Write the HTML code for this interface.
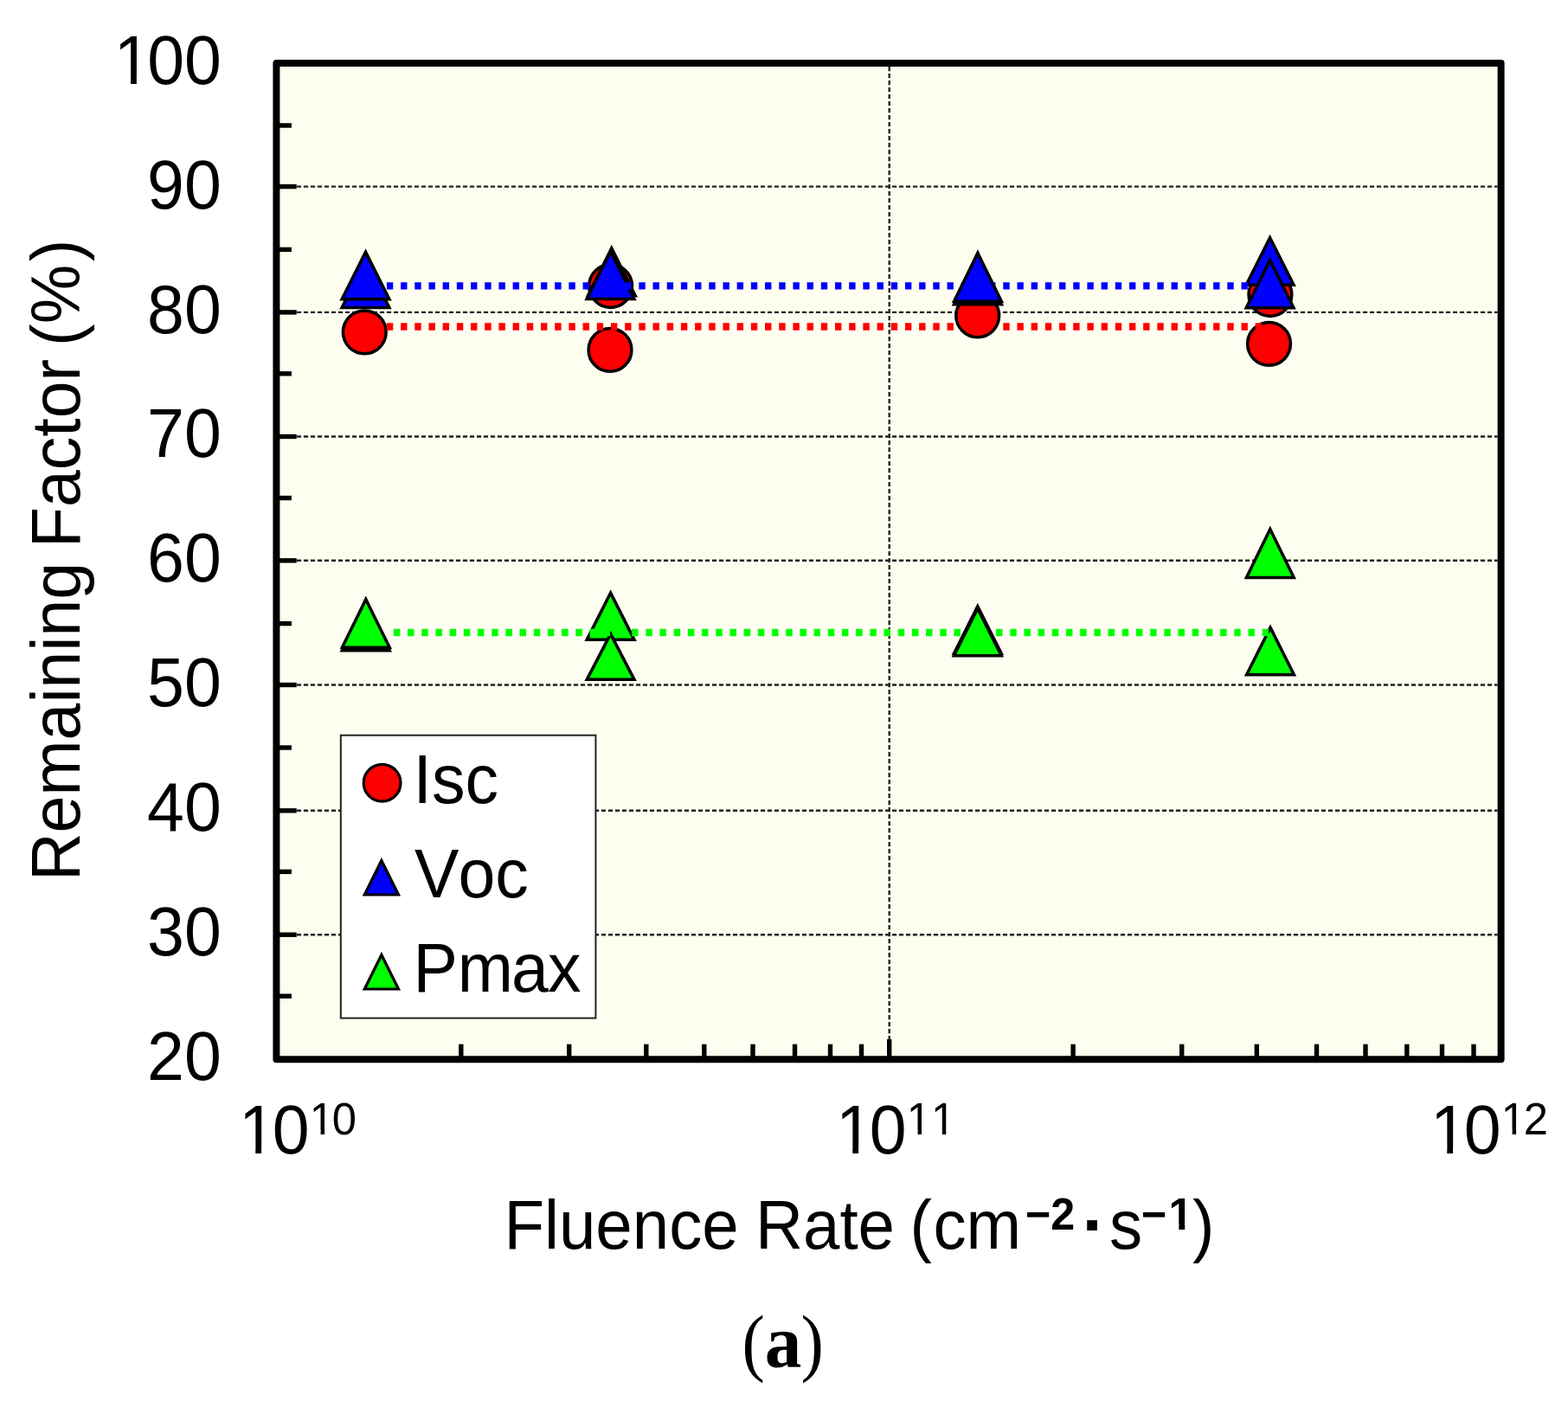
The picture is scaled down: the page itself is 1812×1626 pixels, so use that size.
<!DOCTYPE html>
<html lang="en"><head><meta charset="utf-8"><title>Remaining Factor vs Fluence Rate</title>
<style>
html,body{margin:0;padding:0;background:#fff;}
body{width:1812px;height:1626px;overflow:hidden;}
svg{display:block;}
text{font-family:"Liberation Sans",sans-serif;fill:#000;}
.cap{font-family:"Liberation Serif",serif;}
</style></head><body>
<svg width="1812" height="1626" viewBox="0 0 1812 1626">
<defs><filter id="soft" filterUnits="userSpaceOnUse" x="0" y="0" width="1812" height="1626"><feGaussianBlur stdDeviation="0.7"/></filter></defs>
<rect x="0" y="0" width="1812" height="1626" fill="#fff"/>
<g filter="url(#soft)">
<!-- plot area -->
<rect x="319.4" y="73.0" width="1415.20" height="1151.30" fill="#fefef0"/>
<!-- grid -->
<g stroke="#222" stroke-width="2.4" stroke-dasharray="5.2 2.8" fill="none"><line x1="342.9" y1="1080.20" x2="1730.6" y2="1080.20"/><line x1="342.9" y1="936.80" x2="1730.6" y2="936.80"/><line x1="342.9" y1="791.50" x2="1730.6" y2="791.50"/><line x1="342.9" y1="647.80" x2="1730.6" y2="647.80"/><line x1="342.9" y1="504.50" x2="1730.6" y2="504.50"/><line x1="342.9" y1="360.90" x2="1730.6" y2="360.90"/><line x1="342.9" y1="215.60" x2="1730.6" y2="215.60"/><line x1="1027.70" y1="77.0" x2="1027.70" y2="1201.3"/></g>
<!-- ticks and frame -->
<g stroke="#000" stroke-width="5.4" fill="none"><line x1="319.4" y1="1080.20" x2="342.7" y2="1080.20"/><line x1="319.4" y1="936.80" x2="342.7" y2="936.80"/><line x1="319.4" y1="791.50" x2="342.7" y2="791.50"/><line x1="319.4" y1="647.80" x2="342.7" y2="647.80"/><line x1="319.4" y1="504.50" x2="342.7" y2="504.50"/><line x1="319.4" y1="360.90" x2="342.7" y2="360.90"/><line x1="319.4" y1="215.60" x2="342.7" y2="215.60"/><line x1="319.4" y1="1151.20" x2="336.9" y2="1151.20"/><line x1="319.4" y1="1007.40" x2="336.9" y2="1007.40"/><line x1="319.4" y1="864.00" x2="336.9" y2="864.00"/><line x1="319.4" y1="720.60" x2="336.9" y2="720.60"/><line x1="319.4" y1="575.50" x2="336.9" y2="575.50"/><line x1="319.4" y1="431.80" x2="336.9" y2="431.80"/><line x1="319.4" y1="288.40" x2="336.9" y2="288.40"/><line x1="319.4" y1="145.00" x2="336.9" y2="145.00"/><line x1="532.80" y1="1224.3" x2="532.80" y2="1206.7"/><line x1="657.70" y1="1224.3" x2="657.70" y2="1206.7"/><line x1="746.80" y1="1224.3" x2="746.80" y2="1206.7"/><line x1="813.80" y1="1224.3" x2="813.80" y2="1206.7"/><line x1="870.00" y1="1224.3" x2="870.00" y2="1206.7"/><line x1="918.50" y1="1224.3" x2="918.50" y2="1206.7"/><line x1="959.50" y1="1224.3" x2="959.50" y2="1206.7"/><line x1="995.50" y1="1224.3" x2="995.50" y2="1206.7"/><line x1="1027.70" y1="1224.3" x2="1027.70" y2="1201.0"/><line x1="1240.10" y1="1224.3" x2="1240.10" y2="1206.7"/><line x1="1365.70" y1="1224.3" x2="1365.70" y2="1206.7"/><line x1="1452.30" y1="1224.3" x2="1452.30" y2="1206.7"/><line x1="1521.50" y1="1224.3" x2="1521.50" y2="1206.7"/><line x1="1578.00" y1="1224.3" x2="1578.00" y2="1206.7"/><line x1="1625.80" y1="1224.3" x2="1625.80" y2="1206.7"/><line x1="1666.50" y1="1224.3" x2="1666.50" y2="1206.7"/><line x1="1703.00" y1="1224.3" x2="1703.00" y2="1206.7"/></g>
<rect x="319.4" y="73.0" width="1415.20" height="1151.30" fill="none" stroke="#000" stroke-width="8" stroke-linejoin="round"/>
<!-- data markers (lower layer) -->
<g><circle cx="421.30" cy="383.80" r="24.9" fill="#ff0000" stroke="#000" stroke-width="3.5"/><circle cx="705.60" cy="330.50" r="24.9" fill="#ff0000" stroke="#000" stroke-width="3.5"/><circle cx="705.00" cy="404.40" r="24.9" fill="#ff0000" stroke="#000" stroke-width="3.5"/><circle cx="1467.90" cy="340.50" r="24.9" fill="#ff0000" stroke="#000" stroke-width="3.5"/><circle cx="1466.50" cy="397.30" r="24.9" fill="#ff0000" stroke="#000" stroke-width="3.5"/><polygon points="422.50,300.57 449.90,355.45 395.10,355.45" fill="#0000ff" stroke="#000" stroke-width="3.5" stroke-linejoin="miter" stroke-miterlimit="10"/><polygon points="422.50,291.15 449.90,345.75 395.10,345.75" fill="#0000ff" stroke="#000" stroke-width="3.5" stroke-linejoin="miter" stroke-miterlimit="10"/><polygon points="706.80,286.78 734.20,341.85 679.40,341.85" fill="#0000ff" stroke="#000" stroke-width="3.5" stroke-linejoin="miter" stroke-miterlimit="10"/><polygon points="705.50,290.48 732.90,345.55 678.10,345.55" fill="#0000ff" stroke="#000" stroke-width="3.5" stroke-linejoin="miter" stroke-miterlimit="10"/><polygon points="1467.60,274.74 1495.00,329.15 1440.20,329.15" fill="#0000ff" stroke="#000" stroke-width="3.5" stroke-linejoin="miter" stroke-miterlimit="10"/><polygon points="422.80,693.01 450.20,751.75 395.40,751.75" fill="#00ff00" stroke="#000" stroke-width="3.5" stroke-linejoin="miter" stroke-miterlimit="10"/><polygon points="422.80,692.80 450.20,748.25 395.40,748.25" fill="#00ff00" stroke="#000" stroke-width="3.5" stroke-linejoin="miter" stroke-miterlimit="10"/><polygon points="705.60,685.13 733.00,739.35 678.20,739.35" fill="#00ff00" stroke="#000" stroke-width="3.5" stroke-linejoin="miter" stroke-miterlimit="10"/><polygon points="705.60,732.64 733.00,785.35 678.20,785.35" fill="#00ff00" stroke="#000" stroke-width="3.5" stroke-linejoin="miter" stroke-miterlimit="10"/><polygon points="1467.80,611.53 1495.20,667.45 1440.40,667.45" fill="#00ff00" stroke="#000" stroke-width="3.5" stroke-linejoin="miter" stroke-miterlimit="10"/><polygon points="1468.00,725.15 1495.40,779.75 1440.60,779.75" fill="#00ff00" stroke="#000" stroke-width="3.5" stroke-linejoin="miter" stroke-miterlimit="10"/></g>
<!-- trend lines -->
<g stroke-width="8.4" stroke-dasharray="7.4 8.79" fill="none"><line x1="446.9" y1="330.4" x2="1466" y2="330.4" stroke="#0000ff"/><line x1="446.9" y1="377.5" x2="1466" y2="377.5" stroke="#ff0000"/><line x1="454.9" y1="731.0" x2="1466" y2="731.0" stroke="#00ff00"/></g>
<!-- data markers (upper layer) -->
<g><circle cx="1129.70" cy="364.80" r="24.9" fill="#ff0000" stroke="#000" stroke-width="3.5"/><polygon points="1129.90,292.73 1157.30,351.85 1102.50,351.85" fill="#0000ff" stroke="#000" stroke-width="3.5" stroke-linejoin="miter" stroke-miterlimit="10"/><polygon points="1129.90,292.52 1157.30,348.25 1102.50,348.25" fill="#0000ff" stroke="#000" stroke-width="3.5" stroke-linejoin="miter" stroke-miterlimit="10"/><polygon points="1467.60,300.77 1495.00,355.65 1440.20,355.65" fill="#0000ff" stroke="#000" stroke-width="3.5" stroke-linejoin="miter" stroke-miterlimit="10"/><polygon points="1129.80,700.75 1157.20,755.25 1102.40,755.25" fill="#00ff00" stroke="#000" stroke-width="3.5" stroke-linejoin="miter" stroke-miterlimit="10"/><polygon points="1129.80,703.15 1157.20,757.75 1102.40,757.75" fill="#00ff00" stroke="#000" stroke-width="3.5" stroke-linejoin="miter" stroke-miterlimit="10"/></g>
<!-- legend -->
<rect x="393.8" y="849.7" width="294.6" height="326.9" fill="#fff" stroke="#222" stroke-width="2"/>
<circle cx="441.60" cy="904.80" r="21.4" fill="#ff0000" stroke="#000" stroke-width="3.2"/>
<polygon points="440.90,994.42 460.50,1034.00 421.30,1034.00" fill="#0000ff" stroke="#000" stroke-width="3.2" stroke-linejoin="miter" stroke-miterlimit="10"/>
<polygon points="440.90,1103.42 460.50,1143.00 421.30,1143.00" fill="#00ff00" stroke="#000" stroke-width="3.2" stroke-linejoin="miter" stroke-miterlimit="10"/>
<text transform="translate(477.5,927.6) scale(0.975,1)" font-size="79">Isc</text>
<text transform="translate(479,1037.2) scale(0.975,1)" font-size="79">V<tspan dx="-1">oc</tspan></text>
<text transform="translate(477.5,1145.7) scale(0.975,1)" font-size="79">Pm<tspan dx="-2">a</tspan><tspan dx="-1">x</tspan></text>
<!-- y tick labels -->
<g transform="translate(170.12,1248.28) scale(0.975,1)"><text font-size="79">20</text><g fill="#fff"></g></g>
<g transform="translate(170.12,1104.32) scale(0.975,1)"><text font-size="79">30</text><g fill="#fff"></g></g>
<g transform="translate(170.12,960.36) scale(0.975,1)"><text font-size="79">40</text><g fill="#fff"></g></g>
<g transform="translate(170.12,816.4) scale(0.975,1)"><text font-size="79">50</text><g fill="#fff"></g></g>
<g transform="translate(170.12,672.44) scale(0.975,1)"><text font-size="79">60</text><g fill="#fff"></g></g>
<g transform="translate(170.12,528.48) scale(0.975,1)"><text font-size="79">70</text><g fill="#fff"></g></g>
<g transform="translate(170.12,384.52) scale(0.975,1)"><text font-size="79">80</text><g fill="#fff"></g></g>
<g transform="translate(170.12,240.56) scale(0.975,1)"><text font-size="79">90</text><g fill="#fff"></g></g>
<g transform="translate(127.29,96.6) scale(0.975,1)"><text font-size="79"><tspan dx="4.5">1</tspan><tspan dx="-4.5">0</tspan>0</text><g fill="#fff"><rect x="9.52" y="-7.40" width="14.85" height="8.40"/><rect x="31.35" y="-7.40" width="14.23" height="8.40"/></g></g>
<!-- x tick labels -->
<g transform="translate(272,1333.3) scale(0.975,1)"><text font-size="79"><tspan dx="4.0">1</tspan><tspan dx="-4.0">0</tspan></text><g fill="#fff"><rect x="9.02" y="-7.40" width="14.85" height="8.40"/><rect x="30.85" y="-7.40" width="14.23" height="8.40"/></g></g>
<g transform="translate(355.5,1311.3) scale(0.975,1)"><text font-size="52"><tspan dx="2.4">1</tspan><tspan dx="-2.4">0</tspan></text><g fill="#fff"><rect x="5.36" y="-5.38" width="10.12" height="6.38"/><rect x="20.07" y="-5.38" width="9.71" height="6.38"/></g></g>
<g transform="translate(962,1333.3) scale(0.975,1)"><text font-size="79"><tspan dx="4.0">1</tspan><tspan dx="-4.0">0</tspan></text><g fill="#fff"><rect x="9.02" y="-7.40" width="14.85" height="8.40"/><rect x="30.85" y="-7.40" width="14.23" height="8.40"/></g></g>
<g transform="translate(1045.5,1311.3) scale(0.975,1)"><text font-size="52"><tspan dx="2.4">1</tspan><tspan dx="0.0">1</tspan></text><g fill="#fff"><rect x="5.36" y="-5.38" width="10.12" height="6.38"/><rect x="20.07" y="-5.38" width="9.71" height="6.38"/><rect x="34.28" y="-5.38" width="10.12" height="6.38"/><rect x="48.99" y="-5.38" width="9.71" height="6.38"/></g></g>
<g transform="translate(1649,1333.3) scale(0.975,1)"><text font-size="79"><tspan dx="4.0">1</tspan><tspan dx="-4.0">0</tspan></text><g fill="#fff"><rect x="9.02" y="-7.40" width="14.85" height="8.40"/><rect x="30.85" y="-7.40" width="14.23" height="8.40"/></g></g>
<g transform="translate(1732.5,1311.3) scale(0.975,1)"><text font-size="52"><tspan dx="2.4">1</tspan><tspan dx="-2.4">2</tspan></text><g fill="#fff"><rect x="5.36" y="-5.38" width="10.12" height="6.38"/><rect x="20.07" y="-5.38" width="9.71" height="6.38"/></g></g>
<!-- axis titles -->
<text transform="translate(582.5,1443.4) scale(0.965,1)" font-size="79">Fluence</text>
<text transform="translate(873,1443.4) scale(0.965,1)" font-size="79">Rate</text>
<text transform="translate(1051.5,1443.4) scale(0.965,1)" font-size="79">(</text>
<text transform="translate(1078.5,1443.4) scale(0.965,1)" font-size="79">cm</text>
<text transform="translate(1185,1420.9) scale(0.965,1)" font-size="52"><tspan font-weight="bold">−2</tspan></text>
<text transform="translate(1250.5,1443.4) scale(1.05,1)" font-size="79"><tspan font-weight="bold">·</tspan></text>
<text transform="translate(1282,1443.4) scale(0.965,1)" font-size="79">s</text>
<g transform="translate(1319,1420.9) scale(0.965,1)"><text font-size="52"><tspan font-weight="bold">−<tspan dx="2.4">1</tspan></tspan></text><g fill="#fff"><rect x="35.04" y="-6.81" width="9.86" height="7.81"/><rect x="52.04" y="-6.81" width="9.20" height="7.81"/></g></g>
<text transform="translate(1378,1443.4) scale(0.965,1)" font-size="79">)</text>
<text transform="translate(91.5,1018) rotate(-90) scale(0.975,1)" font-size="79">Remaining</text>
<text transform="translate(91.5,633) rotate(-90) scale(0.975,1)" font-size="79">Factor</text>
<text transform="translate(91.5,400) rotate(-90) scale(0.975,1)" font-size="79">(%<tspan dx="3.8">)</tspan></text>
<!-- caption -->
<text transform="translate(857.4,1580) scale(0.92,1)" font-size="86" class="cap">(</text>
<text transform="translate(883.7,1580) scale(0.973,1)" font-size="87.5" class="cap"><tspan font-weight="bold">a</tspan></text>
<text transform="translate(925.5,1580) scale(0.92,1)" font-size="86" class="cap">)</text>
</g>
</svg></body></html>
